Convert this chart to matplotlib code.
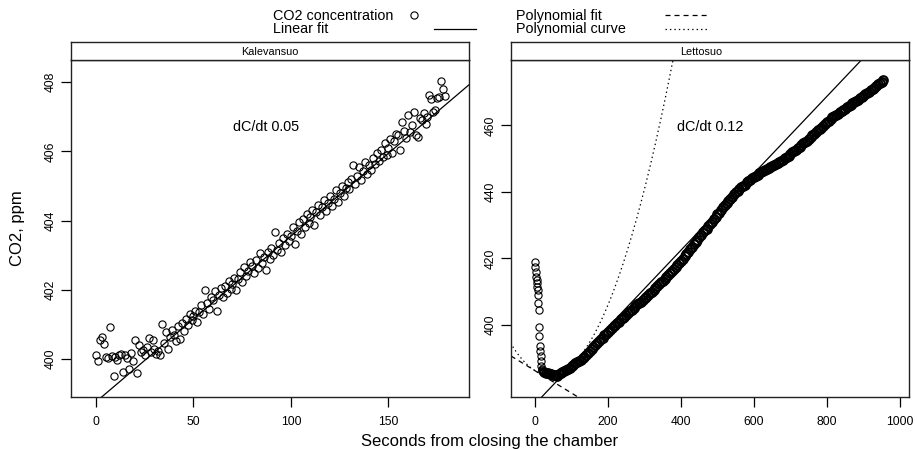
import numpy as np
import matplotlib
matplotlib.use("Agg")
import matplotlib.pyplot as plt
from matplotlib.lines import Line2D

plt.rcParams["font.family"] = ["Liberation Sans", "DejaVu Sans"]
plt.rcParams["lines.scale_dashes"] = False

# -- Kalevansuo: one reading per second --
kal_time = list(range(180))
kal_co2 = [
    400.12, 399.94, 400.55, 400.62, 400.43, 400.05, 400.03, 400.93, 400.08, 399.50,
    400.05, 399.98, 400.10, 400.15, 399.63, 400.10, 400.02, 399.71, 400.18, 399.94,
    400.55, 399.60, 400.40, 400.20, 400.25, 400.12, 400.35, 400.60, 400.20, 400.55,
    400.30, 400.15, 400.22, 400.10, 401.00, 400.45, 400.78, 400.28, 400.62, 400.85,
    400.70, 400.52, 400.95, 400.58, 401.05, 400.80, 401.15, 400.98, 401.30, 401.12,
    401.25, 401.40, 401.08, 401.35, 401.55, 401.30, 402.00, 401.62, 401.45, 401.80,
    401.70, 401.95, 401.38, 401.85, 402.05, 401.78, 402.10, 401.92, 402.25, 402.02,
    402.18, 402.35, 401.98, 402.30, 402.50, 402.22, 402.65, 402.40, 402.55, 402.80,
    402.70, 402.48, 402.85, 402.62, 403.05, 402.78, 402.95, 402.57, 403.10, 402.90,
    403.20, 403.00, 403.68, 403.15, 403.35, 403.10, 403.50, 403.28, 403.62, 403.40,
    403.55, 403.80, 403.32, 403.70, 403.95, 403.60, 404.05, 403.82, 404.20, 403.92,
    404.10, 404.30, 403.88, 404.25, 404.45, 404.15, 404.38, 404.60, 404.28, 404.50,
    404.70, 404.42, 404.62, 404.88, 404.55, 404.80, 405.00, 404.72, 404.95, 405.10,
    404.90, 405.20, 405.60, 405.05, 405.30, 405.55, 405.18, 405.42, 405.70, 405.35,
    405.60, 405.45, 405.80, 405.62, 405.95, 405.72, 406.05, 405.85, 406.25, 405.90,
    406.10, 406.35, 405.95, 406.30, 406.50, 406.48, 406.04, 406.86, 406.60, 406.40,
    407.05, 406.55, 406.75, 407.15, 406.47, 406.42, 406.95, 406.90, 407.10, 406.80,
    407.00, 407.62, 407.50, 407.15, 407.20, 407.55, 407.58, 408.04, 407.80, 407.60,
]
kal_fit = (398.76, 0.0479)          # intercept, slope
kal_label = "dC/dt 0.05"

# -- Lettosuo: first 20 s every second, then every 5 s --
lett_time = list(range(21)) + list(range(25, 956, 5))
lett_co2 = [
    419.0, 417.5, 416.0, 414.5, 413.5, 412.5, 411.5, 410.5, 409.0, 406.5,
    404.5, 399.5, 396.7, 393.7, 392.0, 390.5, 389.0, 387.5, 386.8, 386.3,
    386.0,
    385.8, 385.6, 385.5, 385.3, 385.2, 385.0, 384.9, 384.7, 385.1, 385.4,
    385.7, 386.0, 386.3, 386.7, 387.1, 387.5, 387.9, 388.4, 388.7, 389.1,
    389.5, 389.9, 390.3, 390.9, 391.5, 392.0, 392.7, 393.3, 393.9, 394.5,
    395.1, 395.7, 396.2, 396.9, 397.4, 397.9, 398.5, 399.0, 399.6, 400.1,
    400.6, 401.0, 401.7, 402.1, 402.5, 403.1, 403.7, 404.1, 404.5, 405.1,
    405.6, 406.2, 406.6, 407.0, 407.6, 408.1, 408.5, 408.9, 409.5, 410.0,
    410.6, 411.0, 411.7, 412.3, 412.8, 413.2, 413.8, 414.4, 415.0, 415.5,
    416.2, 416.9, 417.4, 418.0, 418.6, 419.3, 419.9, 420.6, 421.2, 422.0,
    422.8, 423.4, 424.2, 424.9, 425.5, 426.3, 427.0, 427.8, 428.4, 429.0,
    429.8, 430.5, 431.1, 431.9, 432.6, 433.3, 433.8, 434.6, 435.4, 436.0,
    436.6, 437.4, 438.0, 438.5, 439.3, 440.0, 440.4, 440.9, 441.5, 441.8,
    442.2, 442.9, 443.2, 443.7, 444.1, 444.6, 444.9, 445.1, 445.6, 446.0,
    446.4, 446.6, 446.8, 447.3, 447.5, 447.8, 448.2, 448.4, 448.6, 449.1,
    449.3, 449.6, 450.1, 450.5, 450.8, 451.3, 451.9, 452.2, 452.5, 453.1,
    453.5, 454.0, 454.6, 455.0, 455.4, 456.0, 456.6, 457.0, 457.4, 457.9,
    458.5, 458.9, 459.3, 459.9, 460.5, 460.9, 461.3, 461.9, 462.5, 462.8,
    463.1, 463.6, 464.0, 464.3, 464.6, 465.1, 465.6, 465.9, 466.2, 466.7,
    467.2, 467.5, 467.8, 468.3, 468.6, 469.0, 469.5, 469.8, 470.2, 470.6,
    471.0, 471.4, 471.9, 472.4, 472.8, 473.1, 473.6,
]
lett_fit = (376.2, 0.1157)
lett_poly = (386.2, -0.0672, 0.000832)   # a + b*t + c*t^2
lett_label = "dC/dt 0.12"

W, H = 917, 449
fig = plt.figure(figsize=(W / 100, H / 100), dpi=100)


def fx(px):
    return px / W


def fy(py):
    return 1 - py / H


POINT_STYLE = dict(marker="o", linestyle="none", markersize=5.2,
                   markerfacecolor="none", markeredgecolor="black",
                   markeredgewidth=0.8)


def panel(x0, name, name_x, xlim, ylim, xticks, yticks):
    ax = fig.add_axes([fx(x0), fy(397), fx(398), 337 / H])
    strip = fig.add_axes([fx(x0), fy(60), fx(398), 18 / H])
    strip.set_xticks([])
    strip.set_yticks([])
    strip.text(name_x, 0.45, name, ha="center", va="center", fontsize=7.8,
               transform=strip.transAxes)
    for a in (ax, strip):
        for sp in a.spines.values():
            sp.set_linewidth(1.0)
            sp.set_color("#222222")
    ax.set_xlim(*xlim)
    ax.set_ylim(*ylim)
    ax.set_xticks(xticks)
    ax.set_yticks(yticks)
    ax.tick_params(direction="out", length=7, width=0.9, labelsize=8.7,
                   top=False, right=False)
    ax.tick_params(axis="x", pad=7)
    ax.tick_params(axis="y", pad=3)
    for lab in ax.get_yticklabels():
        lab.set_rotation(90)
        lab.set_va("center")
    return ax


# -- Kalevansuo --
ax1 = panel(71, "Kalevansuo", 0.5, (-12.8, 191.3), (398.9, 408.64),
            [0, 50, 100, 150], [400, 402, 404, 406, 408])
ax1.plot(kal_time, kal_co2, **POINT_STYLE)
ax1.axline((0, kal_fit[0]), slope=kal_fit[1], color="black", lw=0.9)
ax1.text(0.49, 0.80, kal_label, transform=ax1.transAxes, ha="center",
         va="center", fontsize=10.4)

# -- Lettosuo --
ax2 = panel(511, "Lettosuo", 0.477, (-66, 1025), (378.3, 479.7),
            [0, 200, 400, 600, 800, 1000], [400, 420, 440, 460])
n_fast = 21   # the 1 s readings right after closing
ax2.plot(lett_time[:n_fast], lett_co2[:n_fast], **POINT_STYLE)
# dense record: heavier outlines so the overlapping circles read as one band
ax2.plot(lett_time[n_fast:], lett_co2[n_fast:],
         **{**POINT_STYLE, "markeredgewidth": 1.5, "markersize": 6.2})
ax2.axline((0, lett_fit[0]), slope=lett_fit[1], color="black", lw=0.9)
ax2.axline((0, lett_poly[0]), slope=lett_poly[1], color="black", lw=0.9,
           dashes=(3.6, 2.9))
tt = np.linspace(-80, 420, 400)
ax2.plot(tt, lett_poly[0] + lett_poly[1] * tt + lett_poly[2] * tt ** 2,
         color="black", lw=0.9, dashes=(1.0, 2.2))
ax2.text(0.50, 0.80, lett_label, transform=ax2.transAxes, ha="center",
         va="center", fontsize=10.4)

# -- shared labels --
fig.text(fx(18), fy(228.5), "CO2, ppm", rotation=90, ha="center",
         va="center", fontsize=12)
fig.text(fx(490), fy(446), "Seconds from closing the chamber", ha="center",
         va="baseline", fontsize=12)

# -- legend drawn in figure space --
fig.text(fx(273), fy(20), "CO2 concentration", ha="left", va="baseline",
         fontsize=10.4)
fig.text(fx(273), fy(33), "Linear fit", ha="left", va="baseline",
         fontsize=10.4)
fig.text(fx(516), fy(20), "Polynomial fit", ha="left", va="baseline",
         fontsize=10.4)
fig.text(fx(516), fy(33), "Polynomial curve", ha="left", va="baseline",
         fontsize=10.4)
fig.add_artist(Line2D([fx(414)], [fy(15)], **POINT_STYLE))
fig.add_artist(Line2D([fx(434), fx(476)], [fy(29), fy(29)], color="black",
                      lw=0.9))
fig.add_artist(Line2D([fx(665), fx(707)], [fy(15), fy(15)], color="black",
                      lw=0.9, dashes=(3.6, 2.9)))
fig.add_artist(Line2D([fx(665), fx(707)], [fy(29), fy(29)], color="black",
                      lw=0.9, dashes=(1.0, 2.2)))

fig.savefig("out.png", dpi=100)
